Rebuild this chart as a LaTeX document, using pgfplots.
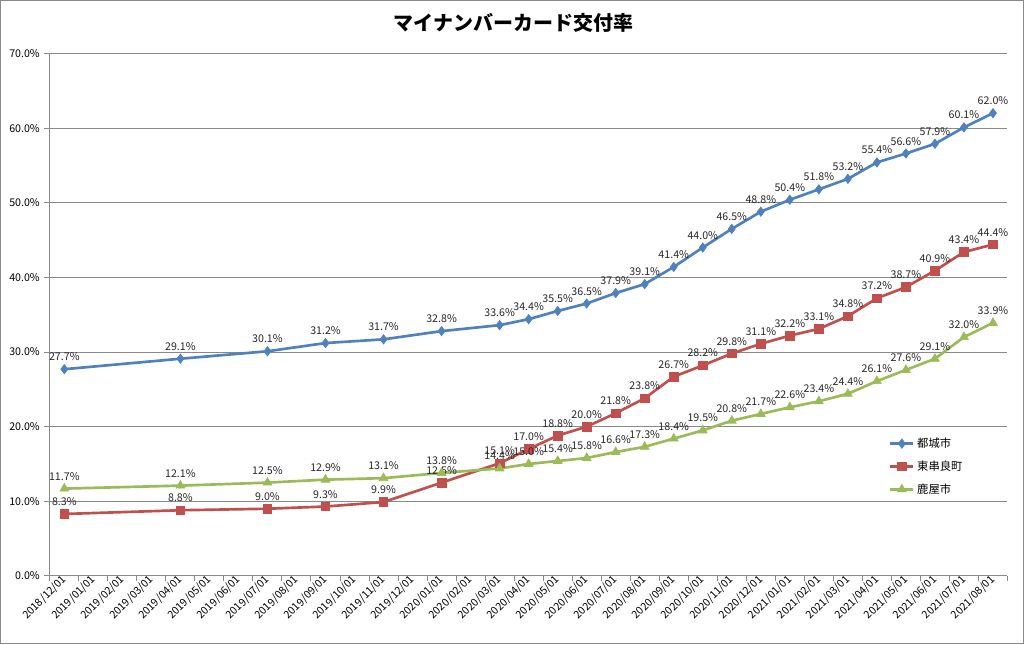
\documentclass[border=0pt]{standalone}
\usepackage{fontspec}
\setmainfont{Noto Sans CJK JP}
\usepackage{pgfplots}
\usepackage{pgfplotstable}
\pgfplotsset{compat=1.18}
\definecolor{cblue}{HTML}{4F81BD}
\definecolor{cred}{HTML}{C0504D}
\definecolor{cgreen}{HTML}{9BBB59}
\definecolor{cgrid}{HTML}{898989}
\pgfplotstableread{
x blue red green
0.5 27.7 8.3 11.7
4.5 29.1 8.8 12.1
7.5 30.1 9.0 12.5
9.5 31.2 9.3 12.9
11.5 31.7 9.9 13.1
13.5 32.8 12.5 13.8
15.5 33.6 15.1 14.4
16.5 34.4 17.0 15.0
17.5 35.5 18.8 15.4
18.5 36.5 20.0 15.8
19.5 37.9 21.8 16.6
20.5 39.1 23.8 17.3
21.5 41.4 26.7 18.4
22.5 44.0 28.2 19.5
23.5 46.5 29.8 20.8
24.5 48.8 31.1 21.7
25.5 50.4 32.2 22.6
26.5 51.8 33.1 23.4
27.5 53.2 34.8 24.4
28.5 55.4 37.2 26.1
29.5 56.6 38.7 27.6
30.5 57.9 40.9 29.1
31.5 60.1 43.4 32.0
32.5 62.0 44.4 33.9
}\datatable
\begin{document}
\begin{tikzpicture}
\useasboundingbox (-37.4pt,-51.4pt) rectangle (731.4pt,432.4pt);
\draw[cgrid, line width=0.75pt] (-37pt,-51pt) rectangle (731pt,432pt);
\node[font=\fontsize{15}{18}\selectfont\bfseries] at (348pt,415.5pt) {マイナンバーカード交付率};
\begin{axis}[
  at={(0,0)}, anchor=south west,
  scale only axis, width=719pt, height=392.25pt,
  xmin=0, xmax=33, ymin=0, ymax=70,
  axis x line*=bottom, axis y line*=left,
  axis line style={cgrid, line width=0.75pt, -},
  every tick/.style={cgrid, line width=0.75pt},
  tick align=outside, major tick length=4pt,
  ytick={0,10,...,70},
  ymajorgrids, grid style={cgrid, line width=0.75pt},
  yticklabel={\pgfmathprintnumber[fixed,fixed zerofill,precision=1]{\tick}\%},
  /pgf/number format/assume math mode=true,
  xtick={0,...,33},
  xticklabels={2018/12/01,2019/01/01,2019/02/01,2019/03/01,2019/04/01,2019/05/01,2019/06/01,2019/07/01,2019/08/01,2019/09/01,2019/10/01,2019/11/01,2019/12/01,2020/01/01,2020/02/01,2020/03/01,2020/04/01,2020/05/01,2020/06/01,2020/07/01,2020/08/01,2020/09/01,2020/10/01,2020/11/01,2020/12/01,2021/01/01,2021/02/01,2021/03/01,2021/04/01,2021/05/01,2021/06/01,2021/07/01,2021/08/01,{}},
  x tick label style={rotate=45, anchor=east, font=\fontsize{8}{9}\selectfont, xshift=13pt, yshift=-6pt},
  y tick label style={font=\fontsize{8}{9}\selectfont},
  clip=false,
  nodes near coords={\pgfmathprintnumber[fixed,fixed zerofill,precision=1]{\pgfplotspointmeta}\%},
  every node near coord/.append style={font=\fontsize{8}{9}\selectfont, anchor=south, inner sep=1pt, yshift=5pt, text=black!85},
  legend style={at={(0.872,0.275)}, anchor=north west, draw=none, fill=none, font=\fontsize{8.5}{10}\selectfont, row sep=4.5pt},
  legend cell align=left,
]
\addplot[cblue, line width=2pt, mark=diamond*, mark size=3.5pt, mark options={line width=0.5pt}] table[x=x, y=blue] {\datatable};
\addlegendentry{都城市}
\addplot[cred, line width=2pt, mark=square*, mark size=3.2pt, mark options={line width=0.5pt}] table[x=x, y=red] {\datatable};
\addlegendentry{東串良町}
\addplot[cgreen, line width=2pt, mark=triangle*, mark size=3.8pt, mark options={line width=0.5pt}] table[x=x, y=green] {\datatable};
\addlegendentry{鹿屋市}
\end{axis}
\end{tikzpicture}
\end{document}
